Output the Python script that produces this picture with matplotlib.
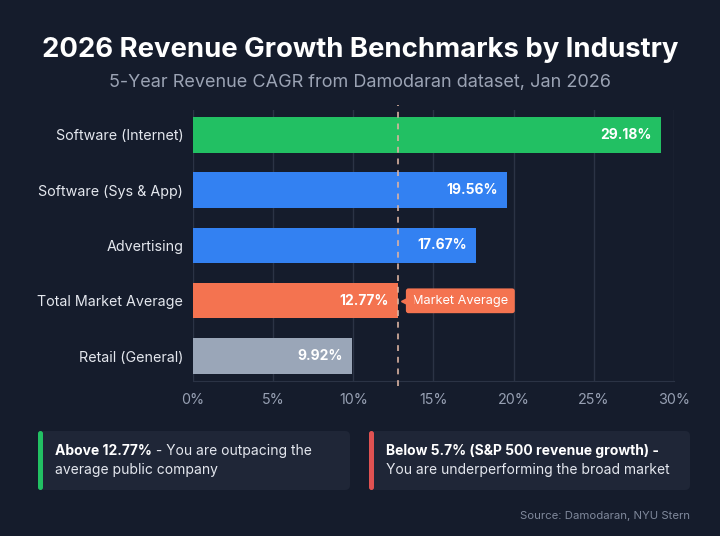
import matplotlib
matplotlib.use("Agg")
import matplotlib.pyplot as plt
import matplotlib.transforms as mtrans
from matplotlib.patches import FancyBboxPatch
from matplotlib.ticker import FuncFormatter

plt.rcParams['font.family'] = ['Inter', 'DejaVu Sans']

categories = ["Software (Internet)", "Software (Sys & App)", "Advertising",
              "Total Market Average", "Retail (General)"]
values = [29.18, 19.56, 17.67, 12.77, 9.92]
colors = ["#22c063", "#3381f2", "#3381f2", "#f47350", "#9aa6b8"]
market_avg = 12.77
xticks = [0, 5, 10, 15, 20, 25, 30]

BG = "#151c2c"
BOX = "#1f2637"

fig = plt.figure(figsize=(7.2, 5.36), dpi=100, facecolor=BG)
ax = fig.add_axes([0.268, 0.2892, 0.668, 0.5056])
ax.set_facecolor(BG)

y = list(range(len(categories)))
ax.barh(y, values, height=0.64, color=colors, zorder=3)
ax.set_ylim(len(categories) - 0.55, -0.45)
ax.set_xlim(0, 30)
ax.set_xticks(xticks)
ax.xaxis.set_major_formatter(FuncFormatter(lambda v, p: f"{v:.0f}%"))
ax.set_yticks(y)
ax.set_yticklabels(categories)
ax.tick_params(axis='y', length=0, pad=7, labelsize=10.3, labelcolor="#e4e7ee")
ax.tick_params(axis='x', length=0, pad=9, labelsize=10.3, labelcolor="#97a0b3")
ax.grid(axis='x', color="#2b3345", linewidth=1, zorder=0)
for s in ['top', 'right', 'left']:
    ax.spines[s].set_visible(False)
ax.spines['bottom'].set_color("#2b3345")

for yi, v in zip(y, values):
    ax.text(v - 0.55, yi, f"{v:.2f}%", ha='right', va='center', color='white',
            fontsize=10, fontweight='bold', zorder=4)

ax.axvline(market_avg, ymin=-0.02, ymax=1.02, color="#dcb3a2", alpha=0.85,
           linestyle=(0, (3, 3)), linewidth=1.4, zorder=5, clip_on=False)

mi = categories.index("Total Market Average")
ax.annotate("Market Average", xy=(market_avg, mi), xytext=(10.5, 0),
            textcoords='offset points', ha='left', va='center', color='white',
            fontsize=9.2, zorder=6,
            bbox=dict(boxstyle="round,pad=0.5,rounding_size=0.2", fc="#f47350", ec="none"))
ptr, = ax.plot([market_avg], [mi], marker='<', markersize=9, color="#f47350",
               zorder=6, clip_on=False, linestyle='none')
ptr.set_transform(ax.transData + mtrans.ScaledTranslation(7 / 72, 0, fig.dpi_scale_trans))

fig.text(0.5, 1 - 50 / 536, "2026 Revenue Growth Benchmarks by Industry", ha='center',
         va='center', color='white', fontsize=19.8, fontweight='bold')
fig.text(0.5, 1 - 82 / 536, "5-Year Revenue CAGR from Damodaran dataset, Jan 2026",
         ha='center', va='center', color="#9ba3b4", fontsize=13)

W, H = 720, 536

def fbox(x0, y0, x1, y1, color, r):
    p = FancyBboxPatch((x0 / W, 1 - y1 / H), (x1 - x0) / W, (y1 - y0) / H,
                       boxstyle=f"round,pad=0,rounding_size={r / W}",
                       transform=fig.transFigure, fc=color, ec='none',
                       mutation_aspect=W / H)
    fig.add_artist(p)

fbox(38, 431, 350, 490, BOX, 5)
fbox(369, 431, 690, 490, BOX, 5)
fbox(38, 431, 43, 490, "#22c063", 2.5)
fbox(369, 431, 374, 490, "#e05252", 2.5)

fig.canvas.draw()
renderer = fig.canvas.get_renderer()

def mixed(x, yy, bold, regular):
    t = fig.text(x / W, 1 - yy / H, bold, ha='left', va='center', color='white',
                 fontsize=10, fontweight='bold')
    if regular:
        bb = t.get_window_extent(renderer)
        fig.text(bb.x1 / W, 1 - yy / H, regular, ha='left', va='center',
                 color="#e4e7ee", fontsize=10)

mixed(55, 451, "Above 12.77%", " - You are outpacing the")
fig.text(55 / W, 1 - 470 / H, "average public company", ha='left', va='center',
         color="#e4e7ee", fontsize=10)
mixed(386, 451, "Below 5.7% (S&P 500 revenue growth) -", "")
fig.text(386 / W, 1 - 470 / H, "You are underperforming the broad market", ha='left',
         va='center', color="#e4e7ee", fontsize=10)

fig.text(690 / W, 1 - 516 / H, "Source: Damodaran, NYU Stern", ha='right', va='center',
         color="#7f889b", fontsize=8.2)

fig.savefig("out.png", dpi=100, facecolor=BG)
